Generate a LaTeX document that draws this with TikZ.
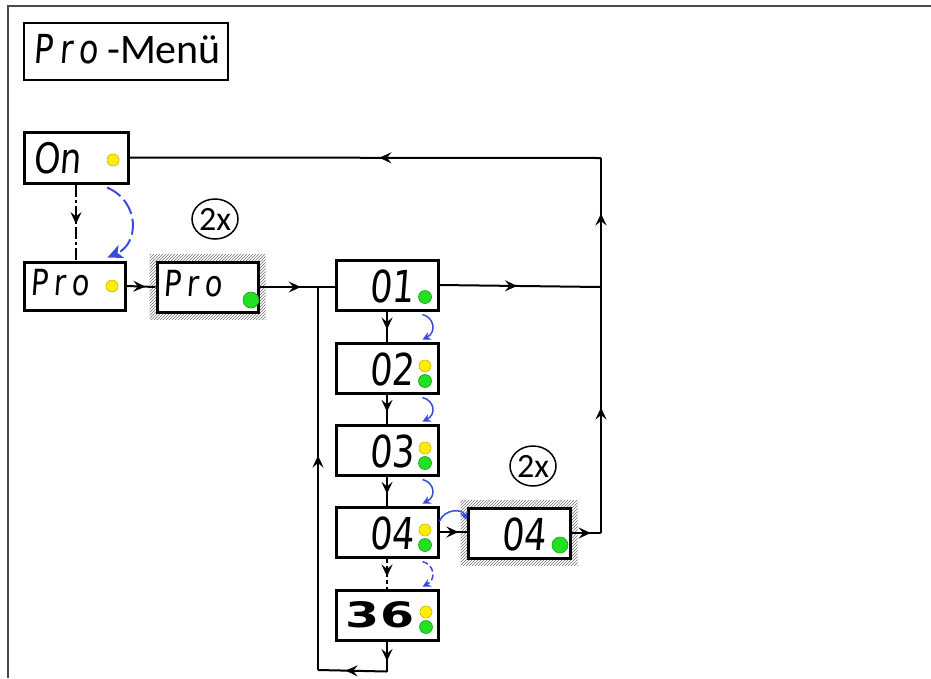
\documentclass[tikz,border=0pt]{standalone}
\usepackage{fontspec}
\usepackage{graphicx}
\usetikzlibrary{arrows.meta,decorations.markings,patterns,backgrounds,calc,shapes.geometric}
\setmainfont{Carlito}
\newfontfamily\lcdfont[FakeSlant=0.08,FakeStretch=0.8]{DejaVu Sans}
\newfontfamily\lcdspaced[FakeSlant=0.08,FakeStretch=0.8,LetterSpace=18]{DejaVu Sans}
\newfontfamily\widefont[FakeStretch=1.4]{DejaVu Sans}
\definecolor{ledyellow}{HTML}{FFEE00}
\definecolor{ledyellowdark}{HTML}{C8B400}
\definecolor{ledgreen}{HTML}{22E022}
\definecolor{ledgreendark}{HTML}{16A016}
\definecolor{arcblue}{HTML}{3A4CE0}
\definecolor{framegray}{HTML}{4A4A4A}
\begin{document}
\begin{tikzpicture}[x=1pt,y=-1pt,
  conn/.style={line width=2pt, draw=black},
  box/.style={draw=black, line width=3pt, fill=white, inner sep=0pt, minimum width=102pt, minimum height=50pt},
  midarr/.style={postaction={decorate,decoration={markings,mark=at position #1 with {\arrow[solid]{Stealth[length=12pt,width=11pt,inset=4.5pt]}}}}},
  bluearc/.style={draw=arcblue, line width=1.5pt, -{Stealth[length=8pt,width=8pt,inset=2.5pt]}},
  ydot/.style={fill=ledyellow, draw=ledyellowdark, line width=0.6pt},
  gdot/.style={fill=ledgreen, draw=ledgreendark, line width=0.6pt},
  lcd/.style={inner sep=0pt, font=\lcdfont\fontsize{44}{44}\selectfont},
  hatch/.style={pattern=north east lines, pattern color=black!55},
  rep/.style={draw, ellipse, line width=1.5pt, minimum width=46pt, minimum height=40pt, inner sep=0pt, font=\fontsize{34}{34}\selectfont}
]
\useasboundingbox (0,0) rectangle (931,678);

% frame
\draw[framegray, line width=2.5pt] (8,678) -- (8,6) -- (931,6);

% title
\node[draw, line width=2.2pt, minimum width=204pt, minimum height=57pt, inner sep=0pt] (title) at (126,51.5) {};
\node[inner sep=0pt, font=\lcdspaced\fontsize{40}{40}\selectfont, anchor=base west] (tTitlePro) at (33,63) {Pro};
\node[inner sep=0pt, font=\fontsize{42}{42}\selectfont, anchor=base west] (tMenu) at (107,63) {-Menü};

% boxes
\node[box, minimum width=104pt, minimum height=51pt] (On) at (76,157.5) {};
\node[box, minimum width=101pt, minimum height=48pt] (Pro) at (74.5,286) {};
\node[box, minimum width=101pt, minimum height=50pt] (ProG) at (207.5,287) {};
\node[box] (b01) at (387,285) {};
\node[box] (b02) at (387,368) {};
\node[box] (b03) at (387,450) {};
\node[box] (b04) at (387,532) {};
\node[box] (b36) at (387,615) {};
\node[box] (b04R) at (519,533) {};

% texts
\node[lcd, font=\lcdfont\fontsize{42}{42}\selectfont, anchor=base west] (tOn) at (33,173) {On};
\node[lcd, font=\lcdspaced\fontsize{36}{36}\selectfont, anchor=base west] (tPro) at (30,295) {Pro};
\node[lcd, font=\lcdspaced\fontsize{36}{36}\selectfont, anchor=base west] (tProG) at (163,296) {Pro};
\node[lcd, anchor=base east] (t01) at (414,302) {01};
\node[lcd, anchor=base east] (t02) at (414,385) {02};
\node[lcd, anchor=base east] (t03) at (414,467) {03};
\node[lcd, anchor=base east] (t04) at (414,549) {04};
\node[lcd, anchor=base east] (t04R) at (546,550) {04};
\node[inner sep=0pt, font=\widefont\bfseries\fontsize{35}{35}\selectfont, anchor=base] (t36) at (380,627) {36};

% repeat marks
\node[rep] (rep1) at (215,219) {2x};
\node[rep] (rep2) at (533,466) {2x};

% LEDs
\draw[ydot] (113,160) circle (6);
\draw[ydot] (112,286) circle (6);
\draw[gdot] (251,300) circle (8);
\draw[gdot] (425,297) circle (6.5);
\draw[ydot] (425,366) circle (6);
\draw[gdot] (425,381) circle (6.5);
\draw[ydot] (425,448) circle (6);
\draw[gdot] (425,463) circle (6.5);
\draw[ydot] (425,530) circle (6);
\draw[gdot] (425,545) circle (6.5);
\draw[ydot] (426,612) circle (6);
\draw[gdot] (426,627) circle (6.5);
\draw[gdot] (560,545) circle (8);

% coordinates
\coordinate (jR) at (318,287);
\coordinate (rOn) at (601,158);
\coordinate (r01) at (601,287);
\coordinate (r04) at (601,533);
\coordinate (bot) at ($(b36.south)+(0,30)$);
\coordinate (botL) at (318,670);

% connectors
\draw[conn, dash pattern=on 12pt off 3pt on 3pt off 3pt, midarr=0.52] (On.south) -- (On.south |- Pro.north);
\draw[conn, midarr=0.65] (Pro.east) -- (ProG.west);
\draw[conn, midarr=0.55] (ProG.east) -- (ProG.east -| b01.west);
\draw[conn, midarr=0.6] (b01.south) -- (b02.north);
\draw[conn, midarr=0.6] (b02.south) -- (b03.north);
\draw[conn, midarr=0.6] (b03.south) -- (b04.north);
\draw[conn, dash pattern=on 4pt off 3pt, midarr=0.6] (b04.south) -- (b36.north);
\draw[conn, midarr=0.65] (b36.south) -- (bot);
\draw[conn, midarr=0.6] (bot) -- (botL);
\draw[conn, midarr=0.56] (botL) -- (jR);
\draw[conn, midarr=0.7] (b04.east) -- (b04.east -| b04R.west);
\draw[conn, midarr=0.65] (b04R.east) -- (r04);
\draw[conn, midarr=0.51] (r04) -- (r01);
\draw[conn, midarr=0.48] (b01.east) -- (r01);
\draw[conn, midarr=0.57] (r01) -- (rOn);
\draw[conn, midarr=0.47] (rOn) -- (On.east);

% blue arcs
\draw[bluearc, line width=2pt, dash pattern=on 16pt off 5pt, -{Stealth[length=15pt,width=14pt,inset=4pt]}]
  ($(On.south)+(31,3)$) .. controls +(33,14) and +(32,-14) .. ($(Pro.north)+(33,-3)$);
\draw[bluearc] ($(b01.south east)+(-17,3)$) .. controls +(12,3) and +(14,-7) .. ($(b02.north east)+(-17,-2)$);
\draw[bluearc] ($(b02.south east)+(-17,3)$) .. controls +(12,3) and +(14,-7) .. ($(b03.north east)+(-17,-2)$);
\draw[bluearc] ($(b03.south east)+(-17,3)$) .. controls +(12,3) and +(14,-7) .. ($(b04.north east)+(-17,-2)$);
\draw[bluearc, dash pattern=on 6pt off 3pt] ($(b04.south east)+(-17,3)$) .. controls +(12,3) and +(14,-7) .. ($(b36.north east)+(-17,-2)$);
\draw[bluearc] ($(b04.east)+(0,-11)$) .. controls +(5,-12) and +(-4,-12) .. ($(b04R.west)+(0,-13)$);

% hatched shadows
\begin{scope}[on background layer]
\fill[white] (0,0) rectangle (931,678);
\fill[hatch] ($(ProG.south west)+(-6,6)$) rectangle ($(ProG.north east)+(6,-6)$);
\fill[hatch] ($(b04R.south west)+(-6,6)$) rectangle ($(b04R.north east)+(6,-6)$);
\end{scope}
\end{tikzpicture}
\end{document}
